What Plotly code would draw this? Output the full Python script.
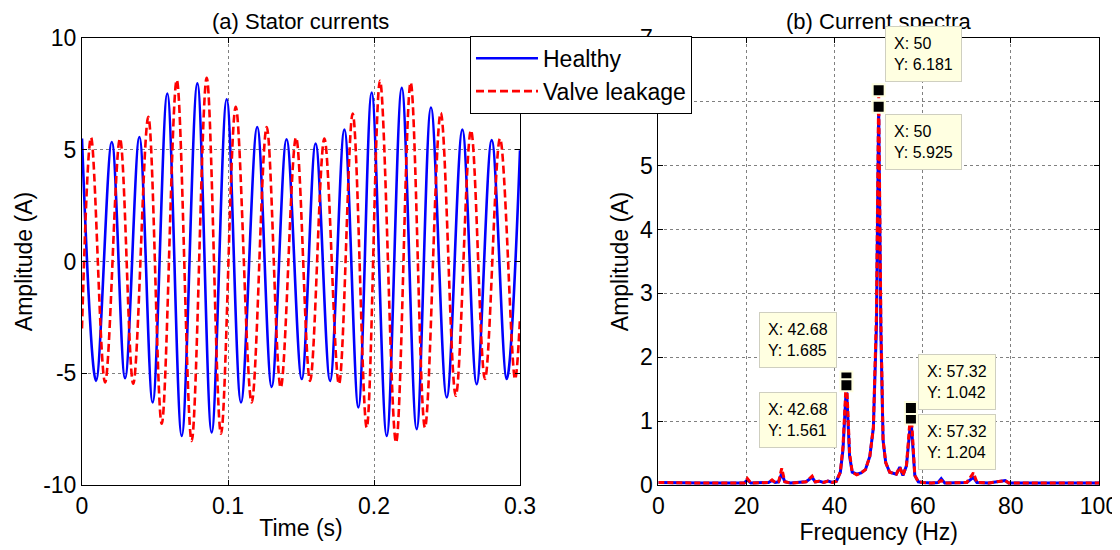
import plotly.graph_objects as go

# ---------------- data ----------------
# (a) stator currents: extrema of the waveforms (time in s, current in A)
t_healthy = [0.0, 0.0096, 0.0204, 0.0295, 0.0393, 0.0484, 0.0584, 0.0683, 0.0790, 0.0888,
             0.0991, 0.1089, 0.1200, 0.1299, 0.1401, 0.1505, 0.1600, 0.1699, 0.1797, 0.1893,
             0.1984, 0.2087, 0.2190, 0.2292, 0.2390, 0.2498, 0.2605, 0.2703, 0.2806, 0.2909, 0.3000]
i_healthy = [5.50, -5.34, 5.35, -5.22, 5.57, -6.31, 7.52, -7.80, 7.97, -7.65,
             7.26, -6.31, 6.02, -5.61, 5.47, -5.26, 5.28, -5.34, 5.90, -6.53,
             7.56, -7.80, 7.77, -7.50, 6.89, -6.08, 5.90, -5.49, 5.43, -5.26, 4.98]

t_leak = [0.0, 0.0062, 0.0158, 0.0260, 0.0351, 0.0454, 0.0546, 0.0649, 0.0751, 0.0854,
          0.0952, 0.1053, 0.1162, 0.1265, 0.1361, 0.1466, 0.1562, 0.1660, 0.1760, 0.1854,
          0.1950, 0.2041, 0.2151, 0.2251, 0.2349, 0.2457, 0.2560, 0.2664, 0.2760, 0.2863,
          0.2966, 0.3000]
i_leak = [-3.00, 5.55, -5.41, 5.50, -5.47, 6.47, -7.26, 8.12, -8.03, 8.22,
          -7.71, 6.92, -6.31, 6.02, -5.64, 5.55, -5.34, 5.50, -5.49, 6.62,
          -7.43, 8.09, -8.10, 8.01, -7.43, 6.65, -6.01, 5.87, -5.26, 5.50,
          -5.26, -2.50]

# (b) current spectra (frequency in Hz, amplitude in A)
freq = [0, 5, 10, 15, 19.5, 20.2, 21, 25, 25.8, 26.5,
        27.3, 28.0, 28.7, 30, 32, 33.5, 34.9, 35.6, 36.5, 37.5,
        38.5, 39.5, 40.4, 41.3, 41.9, 42.68, 43.4, 44.0, 45, 46,
        47, 48.0, 48.8, 49.5, 50, 50.5, 51.0, 51.6, 52.5, 54,
        54.8, 55.5, 56.3, 57.32, 58.2, 59, 60, 62, 63.5, 64.2,
        65, 68, 70, 71.5, 72.3, 75, 78.7, 79.5, 85, 90,
        95, 100]
amp_healthy = [0.04, 0.03, 0.03, 0.03, 0.03, 0.08, 0.03, 0.04, 0.07, 0.04,
               0.05, 0.18, 0.05, 0.03, 0.04, 0.05, 0.12, 0.05, 0.06, 0.04,
               0.06, 0.04, 0.06, 0.20, 0.55, 1.561, 0.45, 0.20, 0.17, 0.19,
               0.24, 0.45, 0.90, 2.50, 5.925, 2.40, 0.70, 0.35, 0.20, 0.17,
               0.28, 0.15, 0.30, 1.042, 0.15, 0.05, 0.04, 0.03, 0.04, 0.10,
               0.03, 0.03, 0.04, 0.12, 0.04, 0.03, 0.07, 0.03, 0.03, 0.03,
               0.03, 0.03]
amp_leak = [0.04, 0.03, 0.03, 0.03, 0.03, 0.10, 0.03, 0.04, 0.08, 0.04,
            0.05, 0.26, 0.05, 0.03, 0.04, 0.05, 0.14, 0.05, 0.06, 0.04,
            0.06, 0.04, 0.06, 0.20, 0.60, 1.685, 0.50, 0.20, 0.16, 0.19,
            0.24, 0.45, 0.90, 2.70, 6.181, 2.60, 0.70, 0.35, 0.20, 0.17,
            0.28, 0.15, 0.30, 1.204, 0.15, 0.05, 0.04, 0.03, 0.04, 0.07,
            0.03, 0.03, 0.04, 0.19, 0.04, 0.03, 0.07, 0.03, 0.03, 0.03,
            0.03, 0.03]

# data tips
tip_freq = [50, 50, 42.68, 42.68, 57.32, 57.32]
tip_amp = [6.181, 5.925, 1.685, 1.561, 1.042, 1.204]
tip_x_text = ["50", "50", "42.68", "42.68", "57.32", "57.32"]
tip_y_text = ["6.181", "5.925", "1.685", "1.561", "1.042", "1.204"]

# tick labels
time_ticks = [0, 0.1, 0.2, 0.3]
time_tick_text = ["0", "0.1", "0.2", "0.3"]
current_ticks = [-10, -5, 0, 5, 10]
current_tick_text = ["-10", "-5", "0", "5", "10"]
freq_ticks = [0, 20, 40, 60, 80, 100]
freq_tick_text = ["0", "20", "40", "60", "80", "100"]
amp_ticks = [0, 1, 2, 3, 4, 5, 6, 7]
amp_tick_text = ["0", "1", "2", "3", "4", "5", "6", "7"]

# ---------------- figure ----------------
FONT = "Liberation Sans, Arial, Helvetica, sans-serif"

fig = go.Figure()
fig.add_trace(go.Scatter(x=t_healthy, y=i_healthy, mode="lines", name="Healthy",
                         line=dict(color="#0000FF", width=2.6, shape="spline", smoothing=1.0),
                         xaxis="x", yaxis="y"))
fig.add_trace(go.Scatter(x=t_leak, y=i_leak, mode="lines", name="Valve leakage",
                         line=dict(color="#FF0000", width=2.6, dash="8px,4px", shape="spline", smoothing=1.0),
                         xaxis="x", yaxis="y"))
fig.add_trace(go.Scatter(x=freq, y=amp_healthy, mode="lines", showlegend=False,
                         line=dict(color="#0000FF", width=3),
                         xaxis="x2", yaxis="y2"))
fig.add_trace(go.Scatter(x=freq, y=amp_leak, mode="lines", showlegend=False,
                         line=dict(color="#FF0000", width=3, dash="6px,3px"),
                         xaxis="x2", yaxis="y2"))
fig.add_trace(go.Scatter(x=tip_freq, y=tip_amp, mode="markers", showlegend=False, hoverinfo="skip",
                         marker=dict(symbol="square", size=12, color="black",
                                     line=dict(color="#FFFFE1", width=2)),
                         xaxis="x2", yaxis="y2"))

axis_common = dict(showline=True, linecolor="black", linewidth=1, mirror="ticks",
                   ticks="inside", ticklen=5, tickcolor="black", tickwidth=1,
                   showgrid=True, gridcolor="#808080", griddash="dot", gridwidth=1,
                   zeroline=False, automargin=False,
                   tickfont=dict(size=23, color="black", family=FONT),
                   title_font=dict(size=23, color="black", family=FONT))

# the page body adds an 8 px offset, so the figure is 8 px smaller on each axis
fig.update_layout(
    template="none",
    width=1112, height=542,
    margin=dict(l=74, r=21, t=30, b=65, autoexpand=False),
    paper_bgcolor="white", plot_bgcolor="white",
    font=dict(family=FONT, color="black"),
    xaxis=dict(domain=[0, 0.4307], range=[0, 0.3], anchor="y",
               tickvals=time_ticks, ticktext=time_tick_text,
               title=dict(text="Time (s)", standoff=2), **axis_common),
    yaxis=dict(domain=[0, 1], range=[-10, 10], anchor="x",
               tickvals=current_ticks, ticktext=current_tick_text,
               title=dict(text="Amplitude (A)", standoff=4), **axis_common),
    xaxis2=dict(domain=[0.5667, 1], range=[0, 100], anchor="y2",
                tickvals=freq_ticks, ticktext=freq_tick_text,
                title=dict(text="Frequency (Hz)", standoff=2), **axis_common),
    yaxis2=dict(domain=[0, 1], range=[0, 7], anchor="x2",
                tickvals=amp_ticks, ticktext=amp_tick_text,
                title=dict(text="Amplitude (A)", standoff=4), **axis_common),
    legend=dict(x=0.3815, y=1.005, xanchor="left", yanchor="top",
                bgcolor="white", bordercolor="black", borderwidth=1,
                font=dict(size=23, color="black", family=FONT),
                itemwidth=62, tracegroupgap=0),
    showlegend=True,
)

# subplot titles (top edge of the figure)
title_y = 1 + 30 / 447
fig.add_annotation(text="(a) Stator currents", xref="paper", yref="paper",
                   x=0.2153, y=title_y, xanchor="center", yanchor="top", borderpad=0,
                   showarrow=False, font=dict(size=22, color="black", family=FONT))
fig.add_annotation(text="(b) Current spectra", xref="paper", yref="paper",
                   x=0.7833, y=title_y, xanchor="center", yanchor="top", borderpad=0,
                   showarrow=False, font=dict(size=22, color="black", family=FONT))

# data-tip boxes (placement styles)
tip_place = [
    dict(xanchor="left", yanchor="bottom", xshift=6, yshift=8),
    dict(xanchor="left", yanchor="top", xshift=6, yshift=-7),
    dict(xanchor="right", yanchor="bottom", xshift=-9, yshift=9),
    dict(xanchor="right", yanchor="top", xshift=-9, yshift=-7),
    dict(xanchor="left", yanchor="bottom", xshift=7, yshift=8),
    dict(xanchor="left", yanchor="top", xshift=7, yshift=-6),
]
for fx, fy, tx, ty, pl in zip(tip_freq, tip_amp, tip_x_text, tip_y_text, tip_place):
    fig.add_annotation(x=fx, y=fy, xref="x2", yref="y2", showarrow=False,
                       text=f"X: {tx}<br>Y: {ty}", align="left",
                       bgcolor="#FFFFE1", bordercolor="#CFCFC0", borderwidth=1, borderpad=8,
                       font=dict(size=16, color="black", family=FONT), **pl)

fig.write_html("out.html")
